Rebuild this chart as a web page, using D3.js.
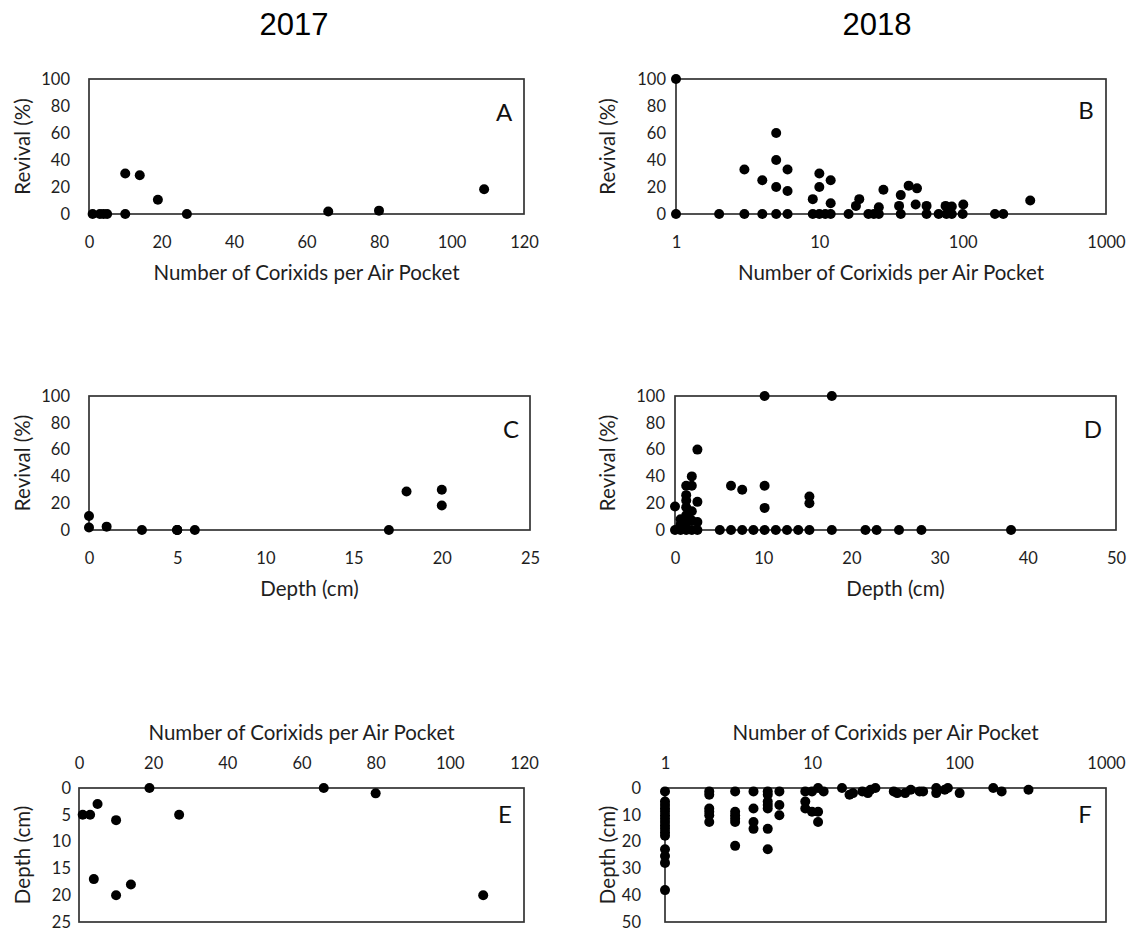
<!DOCTYPE html>
<html>
<head>
<meta charset="utf-8">
<script src="https://cdn.jsdelivr.net/npm/d3@7"></script>
<style>
  html, body { margin: 0; padding: 0; background: #fff; }
  svg { display: block; }
  .tick text { font-family: Lato, "Open Sans", sans-serif; fill: #1e1e1e; }
</style>
</head>
<body>
<svg id="chart" width="1130" height="932"></svg>
<script>
// ---------------- data ----------------
const yearLabels = ["2017", "2018"];
const panelLetters = ["A", "B", "C", "D", "E", "F"];
const countTitle = "Number of Corixids per Air Pocket";
const revivalTitle = "Revival (%)";
const depthTitle = "Depth (cm)";

const countTicksLinear = [0, 20, 40, 60, 80, 100, 120];
const countTicksLog = [1, 10, 100, 1000];
const revivalTicks = [0, 20, 40, 60, 80, 100];
const depthTicks2017 = [0, 5, 10, 15, 20, 25];
const depthTicks2018 = [0, 10, 20, 30, 40, 50];

// 2017: one record per air pocket
const count2017   = [1, 3, 4, 5, 10, 10, 14, 19, 27, 66, 80, 109];
const depth2017   = [5, 5, 17, 3, 6, 20, 18, 0, 5, 0, 1, 20];
const revival2017 = [0, 0, 0, 0, 0, 30, 28.7, 10.5, 0, 1.8, 2.5, 18.3];

// 2018 panel B: count vs revival
const countB2018 = [1, 1, 2, 3, 3, 4, 4, 5, 5, 5, 5, 6, 6, 6, 9, 9, 10, 10, 10, 11, 12, 12, 12,
  16, 18, 19, 22, 24, 26, 26, 28, 36, 37, 37, 42, 47, 48, 56, 56, 68, 76, 77, 84, 84, 100, 101, 168, 192, 296];
const revivalB2018 = [100, 0, 0, 33, 0, 25, 0, 60, 40, 20, 0, 33, 17, 0, 11, 0, 30, 20, 0, 0, 25, 8, 0,
  0, 6, 11, 0, 0, 0, 5, 18, 6, 14, 0, 21, 7, 19, 6, 0, 0, 6, 0, 5.5, 0, 0, 7, 0, 0, 10];

// 2018 panel D: depth vs revival
const depthD2018 = [0, 0, 0.635, 0.635, 0.635, 1.27, 1.27, 1.27, 1.27, 1.27, 1.27, 1.27,
  1.905, 1.905, 1.905, 1.905, 1.905, 2.54, 2.54, 2.54, 2.54, 5.08, 6.35, 6.35, 7.62, 7.62, 8.89,
  10.16, 10.16, 10.16, 10.16, 11.43, 12.7, 13.97, 15.24, 15.24, 15.24, 17.78, 17.78,
  21.59, 22.86, 25.4, 27.94, 38.1];
const revivalD2018 = [0, 17.5, 0, 4, 8, 0, 5, 11, 17, 22, 26, 33,
  0, 7, 14, 33, 40, 0, 6, 21, 60, 0, 0, 33, 0, 30, 0,
  0, 16.5, 33, 100, 0, 0, 0, 0, 20, 25, 0, 100,
  0, 0, 0, 0, 0];

// 2018 panel F: count vs depth
const countF2018 = [1, 1, 1, 1, 1, 1, 1, 1, 1, 1, 1, 1, 1, 1, 1, 1,
  2, 2, 2, 2, 2, 2, 3, 3, 3, 3, 3, 3, 4, 4, 4, 4, 5, 5, 5, 5, 5, 5, 5, 6, 6, 6,
  9, 9, 9, 10, 10, 11, 11, 11, 12, 16, 18, 19, 22, 24, 25, 27, 36, 38, 43, 47, 54, 57,
  70, 70, 80, 84, 101, 171, 195, 297];
const depthF2018 = [1.27, 5.08, 6.35, 7.62, 8.89, 10.16, 11.43, 12.7, 13.97, 15.24, 16.51, 17.78, 22.86, 25.4, 27.94, 38.1,
  1.27, 2.54, 7.62, 8.89, 10.16, 12.7, 1.27, 8.89, 10.16, 11.43, 12.7, 21.59, 1.27, 7.62, 12.7, 15.24,
  1.27, 2.54, 5.08, 6.35, 7.62, 15.24, 22.86, 1.27, 6.35, 10.16,
  1.27, 5.08, 7.62, 1.27, 8.89, 0, 8.89, 12.7, 1.27, 0, 2.54, 1.905, 1.27, 1.905, 0.635, 0, 1.27, 1.905, 1.905, 0.635, 1.27, 1.27,
  0, 1.905, 0.635, 0, 1.905, 0, 1.27, 0.635];

// ---------------- drawing ----------------
const svg = d3.select("#chart");
const FONT = 'Lato, "Open Sans", sans-serif';
const TICK_SIZE = 16.5, TITLE_SIZE = 20.5, LETTER_SIZE = 24;
const INK = "#1e1e1e";

function zip(a, b) { return a.map((v, i) => [v, b[i]]); }

function panel(cfg) {
  const { box, x, y, points, letter, letterPos, xTicks, yTicks, xTitle, yTitle,
          xTop, yPad, yTitleX } = cfg;
  const [x0, x1, y0, y1] = box; // left, right, top, bottom
  const g = svg.append("g");

  // frame
  g.append("rect")
    .attr("x", x0).attr("y", y0)
    .attr("width", x1 - x0).attr("height", y1 - y0)
    .attr("fill", "none").attr("stroke", "#333").attr("stroke-width", 1.7);

  // x axis
  const xAxis = (xTop ? d3.axisTop(x) : d3.axisBottom(x))
    .tickValues(xTicks).tickSize(0).tickPadding(xTop ? 19 : 22)
    .tickFormat(d3.format("d"));
  const gx = g.append("g")
    .attr("transform", `translate(0,${xTop ? y0 : y1})`)
    .call(xAxis);
  gx.select(".domain").remove();
  gx.selectAll("text").style("font-size", TICK_SIZE + "px").style("font-family", FONT);

  // y axis
  const yAxis = d3.axisLeft(y).tickValues(yTicks).tickSize(0).tickPadding(yPad)
    .tickFormat(d3.format("d"));
  const gy = g.append("g").attr("transform", `translate(${x0},0)`).call(yAxis);
  gy.select(".domain").remove();
  gy.selectAll("text").style("font-size", TICK_SIZE + "px").style("font-family", FONT);

  // titles
  const xc = (x0 + x1) / 2;
  g.append("text")
    .attr("x", xc).attr("y", xTop ? y0 - 56.5 : y1 + 58)
    .attr("text-anchor", "middle").attr("dominant-baseline", "central")
    .style("font-family", FONT).style("font-size", TITLE_SIZE + "px").attr("fill", INK)
    .text(xTitle);
  g.append("text")
    .attr("transform", `translate(${yTitleX},${(y0 + y1) / 2}) rotate(-90)`)
    .attr("text-anchor", "middle").attr("dominant-baseline", "central")
    .style("font-family", FONT).style("font-size", TITLE_SIZE + "px").attr("fill", INK)
    .text(yTitle);

  // panel letter
  g.append("text")
    .attr("x", letterPos[0]).attr("y", letterPos[1])
    .attr("text-anchor", "middle")
    .style("font-family", FONT).style("font-size", LETTER_SIZE + "px").attr("fill", "#111")
    .text(letter);

  // points
  g.append("g").selectAll("circle").data(points).join("circle")
    .attr("cx", d => x(d[0])).attr("cy", d => y(d[1]))
    .attr("r", 5).attr("fill", "#000");
}

// year titles
svg.append("text").attr("x", 294).attr("y", 35).attr("text-anchor", "middle")
  .style("font-family", '"Liberation Sans", Arial, sans-serif').style("font-size", "31px")
  .attr("fill", "#000").text(yearLabels[0]);
svg.append("text").attr("x", 877).attr("y", 35).attr("text-anchor", "middle")
  .style("font-family", '"Liberation Sans", Arial, sans-serif').style("font-size", "31px")
  .attr("fill", "#000").text(yearLabels[1]);

// A
panel({
  box: [89, 524, 79, 214],
  x: d3.scaleLinear().domain([0, 120]).range([89, 524]),
  y: d3.scaleLinear().domain([0, 100]).range([214, 79]),
  points: zip(count2017, revival2017), letter: panelLetters[0], letterPos: [504, 121],
  xTicks: countTicksLinear, yTicks: revivalTicks, xTitle: countTitle, yTitle: revivalTitle,
  yPad: 19, yTitleX: 22
});
// B
panel({
  box: [676, 1106, 79, 214],
  x: d3.scaleLog().domain([1, 1000]).range([676, 1106]),
  y: d3.scaleLinear().domain([0, 100]).range([214, 79]),
  points: zip(countB2018, revivalB2018), letter: panelLetters[1], letterPos: [1086, 119],
  xTicks: countTicksLog, yTicks: revivalTicks, xTitle: countTitle, yTitle: revivalTitle,
  yPad: 10, yTitleX: 607
});
// C
panel({
  box: [89, 530, 396, 530],
  x: d3.scaleLinear().domain([0, 25]).range([89, 530]),
  y: d3.scaleLinear().domain([0, 100]).range([530, 396]),
  points: zip(depth2017, revival2017), letter: panelLetters[2], letterPos: [511, 438],
  xTicks: depthTicks2017, yTicks: revivalTicks, xTitle: depthTitle, yTitle: revivalTitle,
  yPad: 19, yTitleX: 22
});
// D
panel({
  box: [675, 1116, 396, 530],
  x: d3.scaleLinear().domain([0, 50]).range([675, 1116]),
  y: d3.scaleLinear().domain([0, 100]).range([530, 396]),
  points: zip(depthD2018, revivalD2018), letter: panelLetters[3], letterPos: [1093, 438],
  xTicks: depthTicks2018, yTicks: revivalTicks, xTitle: depthTitle, yTitle: revivalTitle,
  yPad: 10, yTitleX: 607
});
// E
panel({
  box: [79, 524, 788, 922],
  x: d3.scaleLinear().domain([0, 120]).range([79, 524]),
  y: d3.scaleLinear().domain([0, 25]).range([788, 922]),
  points: zip(count2017, depth2017), letter: panelLetters[4], letterPos: [505, 823],
  xTicks: countTicksLinear, yTicks: depthTicks2017, xTitle: countTitle, yTitle: depthTitle,
  xTop: true, yPad: 8, yTitleX: 22
});
// F
panel({
  box: [665, 1106, 788, 922],
  x: d3.scaleLog().domain([1, 1000]).range([665, 1106]),
  y: d3.scaleLinear().domain([0, 50]).range([788, 922]),
  points: zip(countF2018, depthF2018), letter: panelLetters[5], letterPos: [1085, 823],
  xTicks: countTicksLog, yTicks: depthTicks2018, xTitle: countTitle, yTitle: depthTitle,
  xTop: true, yPad: 24, yTitleX: 607
});
</script>
</body>
</html>
